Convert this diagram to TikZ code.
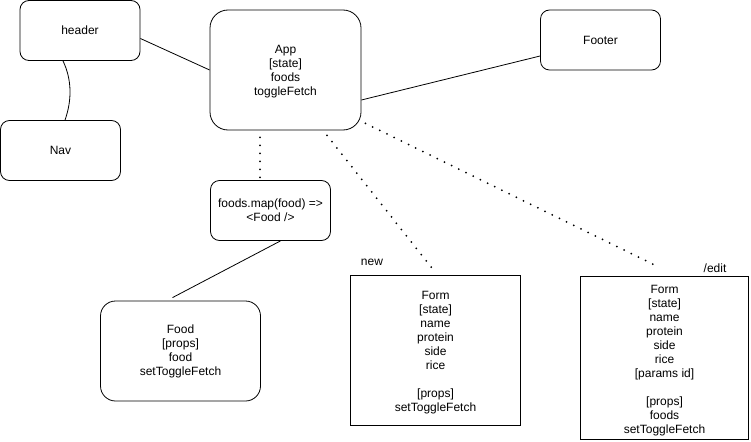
\documentclass[tikz,border=0pt]{standalone}
\usepackage{fontspec}
\setmainfont{Liberation Sans}
\begin{document}
\begin{tikzpicture}[x=1pt,y=-1pt,
  every node/.style={font=\fontsize{12}{14}\selectfont, align=center, inner sep=0pt},
  rbox/.style={draw, line width=0.8pt, rounded corners=9pt},
  sbox/.style={draw, line width=0.8pt},
  link/.style={line width=0.8pt},
  dotlink/.style={line width=2pt, line cap=round, dash pattern=on 0pt off 8pt},
  lbl/.style={inner sep=0pt}]
\useasboundingbox (0,0) rectangle (751,441);
\node[rbox, minimum width=120pt, minimum height=60pt] (header) at (80,30.5) {header};
\node[rbox, minimum width=120pt, minimum height=60pt] (Nav) at (60.5,150.5) {Nav};
\node[rbox, rounded corners=18pt, minimum width=151pt, minimum height=120pt, text depth=-2pt] (App) at (285.5,70) {App\\{[}state{]}\\foods\\toggleFetch};
\node[rbox, minimum width=120pt, minimum height=60pt] (Footer) at (600.5,40) {Footer};
\node[rbox, minimum width=120pt, minimum height=60pt] (map) at (270.5,210.5) {foods.map(food) =\textgreater\\\textless Food /\textgreater};
\node[rbox, rounded corners=15pt, minimum width=160pt, minimum height=100pt] (Food) at (180.5,351) {Food\\{[}props{]}\\food\\setToggleFetch};
\node[sbox, minimum width=170pt, minimum height=150pt] (FormNew) at (435.5,350) {};
\node[anchor=center] (FormNewText) at (435.5,352.5) {Form\\{[}state{]}\\name\\protein\\side\\rice\\[14pt]{[}props{]}\\setToggleFetch};
\node[sbox, minimum width=168pt, minimum height=163pt] (FormEdit) at (664.5,357.5) {};
\node[anchor=center] (FormEditText) at (664.5,360.5) {Form\\{[}state{]}\\name\\protein\\side\\rice\\{[}params id{]}\\[14pt]{[}props{]}\\foods\\setToggleFetch};
\node[lbl] (newlbl) at (372,262) {new};
\node[lbl] (editlbl) at (715,268) {/edit};
\draw[link] ([yshift=-8pt]header.east) -- (App.west);
\draw[link] ([xshift=-17pt]header.south) .. controls +(9,19) and +(7,-20) .. ([xshift=4.5pt]Nav.north);
\draw[link] ([yshift=-30pt]App.east) -- ([yshift=-16pt]Footer.west);
\draw[link] ([xshift=10pt]map.south) -- ([xshift=-8pt,yshift=3pt]Food.north);
\draw[dotlink] ([xshift=-25.5pt,yshift=-7pt]App.south) -- ([xshift=-10.5pt]map.north);
\draw[dotlink] ([xshift=41.5pt,yshift=-5pt]App.south) -- ([yshift=2pt]FormNew.north);
\draw[dotlink] ([xshift=4pt,yshift=7pt]App.south east) -- ([xshift=-4.5pt,yshift=8pt]FormEdit.north);
\end{tikzpicture}
\end{document}
